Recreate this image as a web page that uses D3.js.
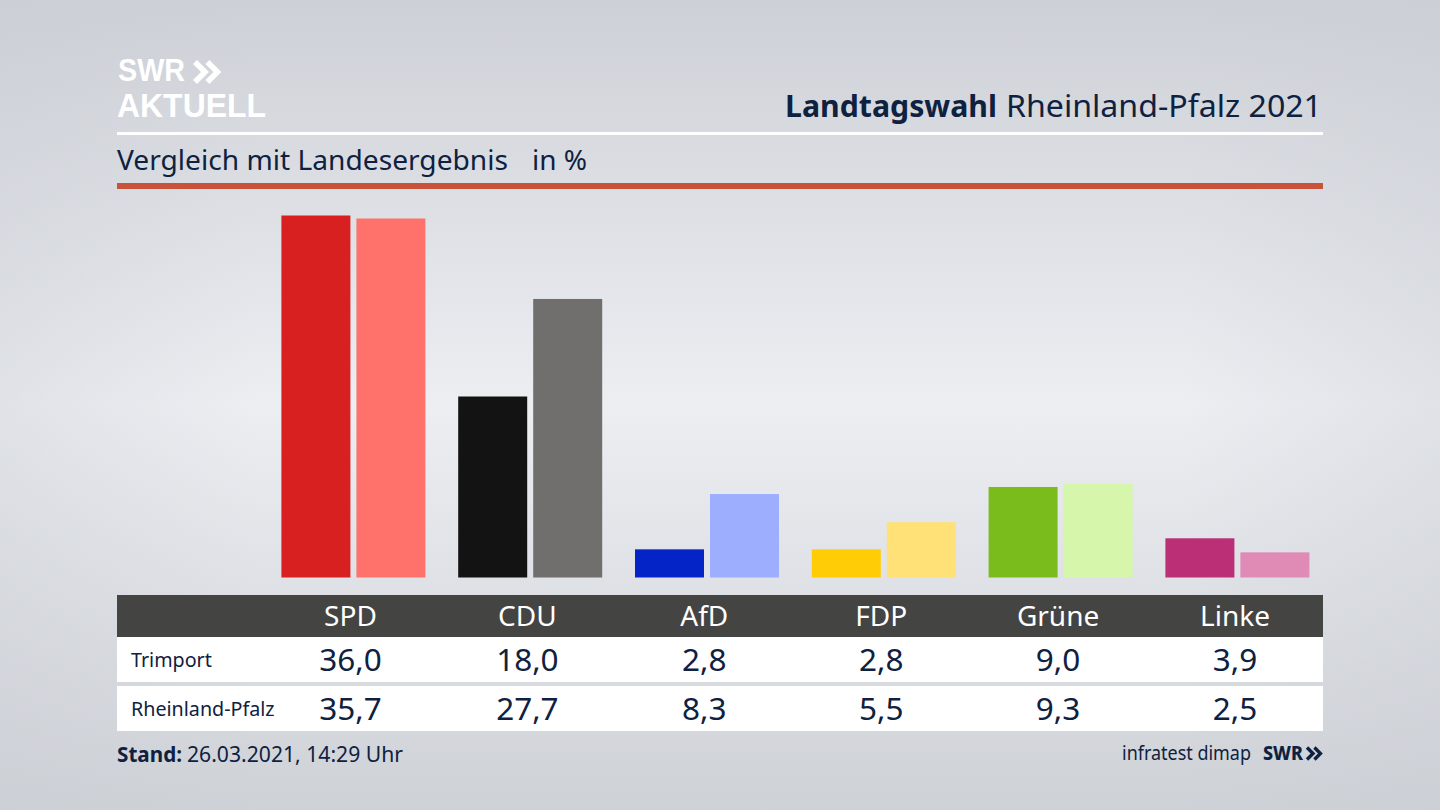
<!DOCTYPE html>
<html>
<head>
<meta charset="utf-8">
<script src="https://cdn.jsdelivr.net/npm/d3@7"></script>
<style>
  html, body { margin: 0; padding: 0; background: #d8dbe0; overflow: hidden; }
  svg { display: block; }
  text { font-family: "Noto Sans", sans-serif; fill: #0f2140; }
</style>
</head>
<body>
<svg id="chart" width="1440" height="810"></svg>
<script>
// Values
var parties = ["SPD", "CDU", "AfD", "FDP", "Grüne", "Linke"];
var trimport = [36.0, 18.0, 2.8, 2.8, 9.0, 3.9];
var landeswert = [35.7, 27.7, 8.3, 5.5, 9.3, 2.5];
var colorsTrimport = ["#d7201f", "#131313", "#0424c8", "#ffcc05", "#79bc1c", "#ba2f75"];
var colorsLand = ["#ff726c", "#706f6d", "#9eaeff", "#ffe177", "#d5f6ab", "#e08ab6"];
var rowLabels = ["Trimport", "Rheinland-Pfalz"];

var svg = d3.select("#chart");
var ink = "#0f2140";

// Background
var defs = svg.append("defs");
var bg = defs.append("linearGradient").attr("id", "bg").attr("x1", 0).attr("x2", 0).attr("y1", 0).attr("y2", 1);
bg.append("stop").attr("offset", "0%").attr("stop-color", "#cdd0d6");
bg.append("stop").attr("offset", "50%").attr("stop-color", "#eceef2");
bg.append("stop").attr("offset", "100%").attr("stop-color", "#ced1d6");
var side = defs.append("linearGradient").attr("id", "side");
side.append("stop").attr("offset", "0%").attr("stop-color", "#c9cdd4").attr("stop-opacity", 0.35);
side.append("stop").attr("offset", "18%").attr("stop-color", "#c9cdd4").attr("stop-opacity", 0);
side.append("stop").attr("offset", "82%").attr("stop-color", "#c9cdd4").attr("stop-opacity", 0);
side.append("stop").attr("offset", "100%").attr("stop-color", "#c9cdd4").attr("stop-opacity", 0.35);
svg.append("rect").attr("width", 1440).attr("height", 810).attr("fill", "url(#bg)");
svg.append("rect").attr("width", 1440).attr("height", 810).attr("fill", "url(#side)");

// Scales
var y = d3.scaleLinear().domain([0, 36]).range([577.5, 215.5]);
var x = d3.scaleBand().domain(parties).range([265, 1325.8]);
var inner = d3.scaleBand().domain([0, 1]).range([-72, 72]).paddingInner(0.08);
var labelX = d3.scalePoint().domain(parties).range([350.5, 1235]);

// Logo
var chevrons = function(g, px, py, s, color) {
    [0, 1].forEach(function(i) {
        g.append("path")
            .attr("d", "M" + (px + i * s * 0.62) + "," + py + "l" + (s * 0.5) + "," + (s * 0.5) + "l" + (-s * 0.5) + "," + (s * 0.5))
            .attr("fill", "none").attr("stroke", color).attr("stroke-width", s * 0.28);
    });
};
// Liberation has a tighter line box, the two logo lines sit very close
svg.append("text").attr("x", 118).attr("y", 80.5).attr("font-size", 31).attr("font-weight", 700)
    .attr("textLength", 67).attr("lengthAdjust", "spacingAndGlyphs")
    .style("font-family", "'Liberation Sans'").style("fill", "#fff").text("SWR");
svg.append("text").attr("x", 117).attr("y", 117).attr("font-size", 33).attr("font-weight", 700)
    .attr("textLength", 149).attr("lengthAdjust", "spacingAndGlyphs")
    .style("font-family", "'Liberation Sans'").style("fill", "#fff").text("AKTUELL");
chevrons(svg, 195, 62, 20, "#fff");

// Heading
svg.append("text").attr("x", 785).attr("y", 117).attr("font-size", 31).attr("font-weight", 700)
    .attr("textLength", 212).attr("lengthAdjust", "spacingAndGlyphs").text("Landtagswahl");
svg.append("text").attr("x", 1006).attr("y", 117).attr("font-size", 31)
    .attr("textLength", 316).attr("lengthAdjust", "spacingAndGlyphs").text("Rheinland-Pfalz 2021");
svg.append("rect").attr("x", 117).attr("y", 132).attr("width", 1206).attr("height", 3).attr("fill", "#fff");
svg.append("text").attr("x", 117).attr("y", 170).attr("font-size", 28)
    .attr("textLength", 391).attr("lengthAdjust", "spacingAndGlyphs").text("Vergleich mit Landesergebnis");
svg.append("text").attr("x", 532).attr("y", 170).attr("font-size", 28).text("in %");
svg.append("rect").attr("x", 117).attr("y", 183).attr("width", 1206).attr("height", 6).attr("fill", "#c9523a");

// Bars
var groups = svg.selectAll("g.party").data(parties).enter().append("g")
    .attr("class", "party")
    .attr("transform", function(d) { return "translate(" + (x(d) + x.bandwidth() / 2) + ",0)"; });
[trimport, landeswert].forEach(function(series, s) {
    var colors = s === 0 ? colorsTrimport : colorsLand;
    groups.append("rect")
        .attr("x", inner(s))
        .attr("width", inner.bandwidth())
        .attr("y", function(d, i) { return y(series[i]); })
        .attr("height", function(d, i) { return y(0) - y(series[i]); })
        .attr("fill", function(d, i) { return colors[i]; });
});

// Table
svg.append("rect").attr("x", 117).attr("y", 595).attr("width", 1206).attr("height", 42).attr("fill", "#444443");
svg.append("rect").attr("x", 117).attr("y", 637).attr("width", 1206).attr("height", 45).attr("fill", "#fff");
svg.append("rect").attr("x", 117).attr("y", 686).attr("width", 1206).attr("height", 45).attr("fill", "#fff");
svg.selectAll("text.head").data(parties).enter().append("text")
    .attr("class", "head")
    .attr("x", function(d) { return labelX(d); })
    .attr("y", 626).attr("text-anchor", "middle").attr("font-size", 28)
    .style("fill", "#fff")
    .text(function(d) { return d; });

var fmt = function(v) { return v.toFixed(1).replace(".", ","); };
[trimport, landeswert].forEach(function(series, s) {
    var base = s === 0 ? 671 : 720;
    svg.append("text").attr("x", 131).attr("y", base - 4).attr("font-size", 19.7).text(rowLabels[s]);
    svg.selectAll("text.row" + s).data(series).enter().append("text")
        .attr("class", "row" + s)
        .attr("x", function(d, i) { return labelX(parties[i]); })
        .attr("y", base).attr("text-anchor", "middle").attr("font-size", 31.5)
        .text(fmt);
});

// Footer
svg.append("text").attr("x", 117).attr("y", 762).attr("font-size", 22).attr("font-weight", 700)
    .attr("textLength", 65).attr("lengthAdjust", "spacingAndGlyphs").text("Stand:");
svg.append("text").attr("x", 187).attr("y", 762).attr("font-size", 22)
    .attr("textLength", 216).attr("lengthAdjust", "spacingAndGlyphs").text("26.03.2021, 14:29 Uhr");
svg.append("text").attr("x", 1122).attr("y", 760).attr("font-size", 20)
    .attr("textLength", 129).attr("lengthAdjust", "spacingAndGlyphs").text("infratest dimap");
svg.append("text").attr("x", 1263).attr("y", 760).attr("font-size", 20).attr("font-weight", 800)
    .attr("textLength", 40).attr("lengthAdjust", "spacingAndGlyphs").text("SWR");
chevrons(svg, 1307, 747.5, 12, ink);
</script>
</body>
</html>
